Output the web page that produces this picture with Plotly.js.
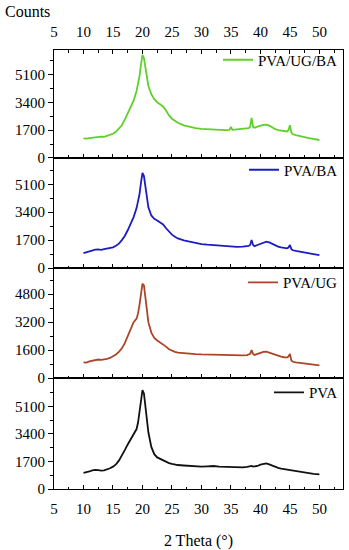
<!DOCTYPE html>
<html>
<head>
<meta charset="utf-8">
<script src="https://cdn.plot.ly/plotly-3.0.1.min.js"></script>
<style>html,body{margin:0;padding:0;background:#fff;}#chart{width:349px;height:550px;}</style>
</head>
<body>
<div id="chart"></div>
<script>
// 2 Theta (degrees)
const theta = [10,10.5,11,11.5,12,12.5,13,13.5,14,14.5,15,15.5,16,16.5,17,17.5,18,18.5,19,19.25,19.5,19.75,20,20.25,20.5,20.75,21,21.5,22,22.5,23,23.5,24,24.5,25,25.5,26,27,28,29,30,31,32,33,34,34.75,35,35.25,36,37,37.75,38,38.25,38.5,38.75,39,39.5,40,40.5,41,41.5,42,42.5,43,43.5,44,44.5,44.75,45,45.25,45.5,46,46.5,47,47.5,48,48.5,49,49.5,50];

// Counts per sample
const pvaUGBA = [1200,1180,1220,1250,1240,1280,1300,1290,1340,1400,1480,1600,1780,2000,2350,2700,3050,3500,4100,4500,5000,5700,6300,6100,5500,4900,4400,3900,3600,3400,3250,3150,2900,2600,2400,2250,2150,2000,1900,1830,1780,1750,1720,1700,1700,1720,1900,1720,1740,1760,1800,1820,1900,2450,1900,1850,1920,1980,2020,2030,1980,1880,1760,1700,1660,1640,1620,1700,2000,1550,1450,1400,1350,1300,1270,1230,1200,1170,1130,1100];

const pvaBA = [900,950,1000,1080,1120,1130,1110,1150,1180,1200,1260,1350,1480,1700,1950,2300,2650,3100,3650,4000,4500,5200,5800,5600,5000,4300,3700,3200,3000,2900,2800,2650,2420,2200,2030,1900,1800,1680,1600,1520,1460,1420,1390,1350,1320,1300,1310,1290,1290,1300,1330,1340,1400,1700,1400,1330,1400,1480,1560,1600,1560,1460,1370,1300,1250,1220,1200,1250,1400,1150,1080,1040,1000,960,930,900,870,840,810,780];

const pvaUG = [900,880,950,1000,1020,1060,1040,1050,1100,1150,1250,1350,1500,1700,2000,2400,2900,3200,3400,3700,4200,4900,5400,5300,4700,3900,3200,2600,2300,2150,2050,1950,1800,1650,1560,1500,1460,1420,1400,1370,1350,1340,1320,1310,1300,1290,1300,1280,1290,1300,1310,1330,1380,1600,1380,1320,1380,1450,1500,1510,1450,1370,1300,1250,1220,1190,1180,1230,1380,1000,930,900,880,860,840,820,800,780,760,730];

const pva = [1000,1020,1080,1150,1180,1160,1130,1150,1200,1280,1380,1520,1750,2050,2400,2750,3100,3350,3700,4100,4700,5500,6100,5900,5200,4300,3500,2600,2150,1950,1850,1800,1700,1600,1550,1500,1480,1450,1420,1400,1380,1400,1420,1380,1360,1350,1360,1340,1350,1340,1360,1370,1380,1420,1380,1380,1420,1500,1560,1580,1520,1430,1360,1300,1260,1230,1200,1180,1180,1150,1120,1080,1060,1030,1000,980,960,940,920,900];

const seriesNames = ['PVA/UG/BA','PVA/BA','PVA/UG','PVA'];
const seriesColors = ['#5fd02a','#1c1cc4','#ab4528','#111111'];

const xTickLabels = [5,10,15,20,25,30,35,40,45,50];
const yTicksA = [0,1700,3400,5100];
const yTicksB = [0,1600,3200,4800];

const fontFam = 'Liberation Serif';
const tickFont = {family: fontFam, size: 15, color: '#000'};

const traces = [
  {x: theta, y: pvaUGBA, xaxis: 'x4', yaxis: 'y4', legend: 'legend'},
  {x: theta, y: pvaBA, xaxis: 'x3', yaxis: 'y3', legend: 'legend2'},
  {x: theta, y: pvaUG, xaxis: 'x2', yaxis: 'y2', legend: 'legend3'},
  {x: theta, y: pva, xaxis: 'x', yaxis: 'y', legend: 'legend4'}
].map((t, i) => Object.assign(t, {
  type: 'scatter', mode: 'lines', name: seriesNames[i],
  line: {color: seriesColors[i], width: 1.8}, showlegend: true
}));

function xAx(anchor, extra) {
  return Object.assign({
    anchor: anchor, domain: [0, 1], range: [5, 54],
    tickmode: 'array', tickvals: xTickLabels, ticktext: xTickLabels.map(String),
    ticks: 'inside', ticklen: 4, tickcolor: '#000', tickwidth: 1,
    minor: {tickmode: 'linear', tick0: 2.5, dtick: 2.5, ticks: 'inside', ticklen: 2.5, tickcolor: '#000'},
    showline: true, linecolor: '#000', linewidth: 1, mirror: true,
    showgrid: false, zeroline: false, showticklabels: false,
    tickfont: tickFont, ticklabelstandoff: 6
  }, extra || {});
}
function yAx(domain, range, tv, minorDt, extra) {
  return Object.assign({
    domain: domain, range: range, tickmode: 'array', tickvals: tv,
    ticks: 'outside', ticklen: 5, tickcolor: '#000', tickwidth: 1,
    minor: {tickmode: 'linear', tick0: 0, dtick: minorDt, ticks: 'outside', ticklen: 3, tickcolor: '#000'},
    showline: true, linecolor: '#000', linewidth: 1, mirror: true,
    showgrid: false, zeroline: false, tickfont: tickFont
  }, extra || {});
}
function yRight(over, range, tv, minorDt) {
  return {
    overlaying: over, side: 'right', range: range, tickmode: 'array', tickvals: tv,
    ticks: 'inside', ticklen: 4, tickcolor: '#000', showticklabels: false,
    minor: {tickmode: 'linear', tick0: 0, dtick: minorDt, ticks: 'inside', ticklen: 2.5, tickcolor: '#000'},
    showline: false, showgrid: false, zeroline: false
  };
}

const d1 = [0, 0.2528], d2 = [0.2528, 0.5034], d3 = [0.5034, 0.754], d4 = [0.754, 1];
const r1 = [0, 6850], r2 = [0, 6300], r3 = [0, 6700], r4 = [0, 6600];

function leg(y) {
  return {x: 1, xanchor: 'right', y: y, yanchor: 'middle', bgcolor: 'rgba(0,0,0,0)',
    borderwidth: 0, font: {family: fontFam, size: 15, color: '#000'}, itemwidth: 30,
    tracegroupgap: 0};
}

const layout = {
  width: 349, height: 550,
  margin: {l: 54, r: 6, t: 50, b: 61},
  paper_bgcolor: '#fff', plot_bgcolor: '#fff',
  font: {family: fontFam, color: '#000'},
  xaxis: xAx('y', {showticklabels: true,
    title: {text: '2 Theta (°)', font: {family: fontFam, size: 16, color: '#000'}, standoff: 20}}),
  xaxis2: xAx('y2', {matches: 'x'}),
  xaxis3: xAx('y3', {matches: 'x'}),
  xaxis4: xAx('y4', {matches: 'x', side: 'top', mirror: 'ticks', showticklabels: true}),
  yaxis: yAx(d1, r1, yTicksA, 850, {anchor: 'x'}),
  yaxis2: yAx(d2, r2, yTicksB, 800, {anchor: 'x2'}),
  yaxis3: yAx(d3, r3, yTicksA, 850, {anchor: 'x3'}),
  yaxis4: yAx(d4, r4, yTicksA, 850, {anchor: 'x4'}),
  yaxis5: Object.assign(yRight('y', r1, yTicksA, 850), {anchor: 'x'}),
  yaxis6: Object.assign(yRight('y2', r2, yTicksB, 800), {anchor: 'x2'}),
  yaxis7: Object.assign(yRight('y3', r3, yTicksA, 850), {anchor: 'x3'}),
  yaxis8: Object.assign(yRight('y4', r4, yTicksA, 850), {anchor: 'x4'}),
  legend: leg(0.9772),
  legend2: leg(0.7267),
  legend3: leg(0.4699),
  legend4: leg(0.2194),
  annotations: [{
    text: 'Counts', xref: 'paper', yref: 'paper', x: -0.1765, y: 1.0866,
    xanchor: 'left', yanchor: 'middle', showarrow: false,
    font: {family: fontFam, size: 16, color: '#000'}
  }]
};

Plotly.newPlot('chart', traces, layout, {displayModeBar: false, staticPlot: true});
</script>
</body>
</html>
